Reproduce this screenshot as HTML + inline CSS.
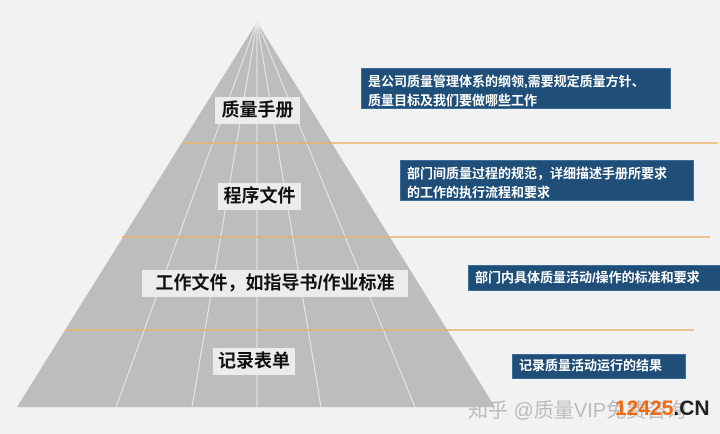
<!DOCTYPE html>
<html><head><meta charset="utf-8"><style>
body{margin:0;width:720px;height:434px;background:#f2f2f2;overflow:hidden;position:relative;font-family:"Liberation Sans","Noto Sans CJK SC",sans-serif}
.l{position:absolute;background:#ececec;color:#111;font-weight:bold;font-size:18px;line-height:27px;text-align:center}
.b{position:absolute;background:#1f4e79;color:#fff;font-weight:bold;font-size:13px;line-height:19px;padding:3px 6px;box-sizing:border-box;border:1px solid #3a6d9a}
</style></head><body>
<svg width="720" height="434" style="position:absolute;left:0;top:0">
<polygon points="257,22 17,407 495,407" fill="#bdbdbd"/>
<g stroke="#e8e8e8" stroke-width="1">
<line x1="257" y1="22" x2="116" y2="407"/><line x1="257" y1="22" x2="192" y2="407"/><line x1="257" y1="22" x2="257" y2="407"/><line x1="257" y1="22" x2="321" y2="407"/><line x1="257" y1="22" x2="415" y2="407"/>
</g>
<line x1="17" y1="407.5" x2="495" y2="407.5" stroke="#e8e8e8"/>
<g stroke="#e8b46a" stroke-width="1.5">
<line x1="183" y1="143" x2="718" y2="143"/><line x1="122" y1="237" x2="710" y2="237"/><line x1="65" y1="330" x2="694" y2="330"/>
</g>
</svg>
<div class="l" style="left:215px;top:97px;width:85px">质量手册</div>
<div class="l" style="left:218px;top:183px;width:83px">程序文件</div>
<div class="l" style="left:142px;top:270px;width:266px">工作文件，如指导书/作业标准</div>
<div class="l" style="left:213px;top:348px;width:82px">记录表单</div>
<div class="b" style="left:361px;top:68px;width:310px;height:41px">是公司质量管理体系的纲领,需要规定质量方针、<br>质量目标及我们要做哪些工作</div>
<div class="b" style="left:400px;top:160px;width:294px;height:41px">部门间质量过程的规范，详细描述手册所要求<br>的工作的执行流程和要求</div>
<div class="b" style="left:468px;top:265px;width:254px;height:26px;line-height:18px;padding-top:3px">部门内具体质量活动/操作的标准和要求</div>
<div class="b" style="left:512px;top:354px;width:174px;height:25px;line-height:18px;padding-top:2px">记录质量活动运行的结果</div>
<div style="position:absolute;left:468px;top:394px;font-size:20px;color:#bbb">知乎 @质量VIP免费咨询</div>
<div style="position:absolute;left:615px;top:397px;font-size:21px;font-weight:bold;color:#f26a10">12425<span style="color:#222">.CN</span></div>
</body></html>
